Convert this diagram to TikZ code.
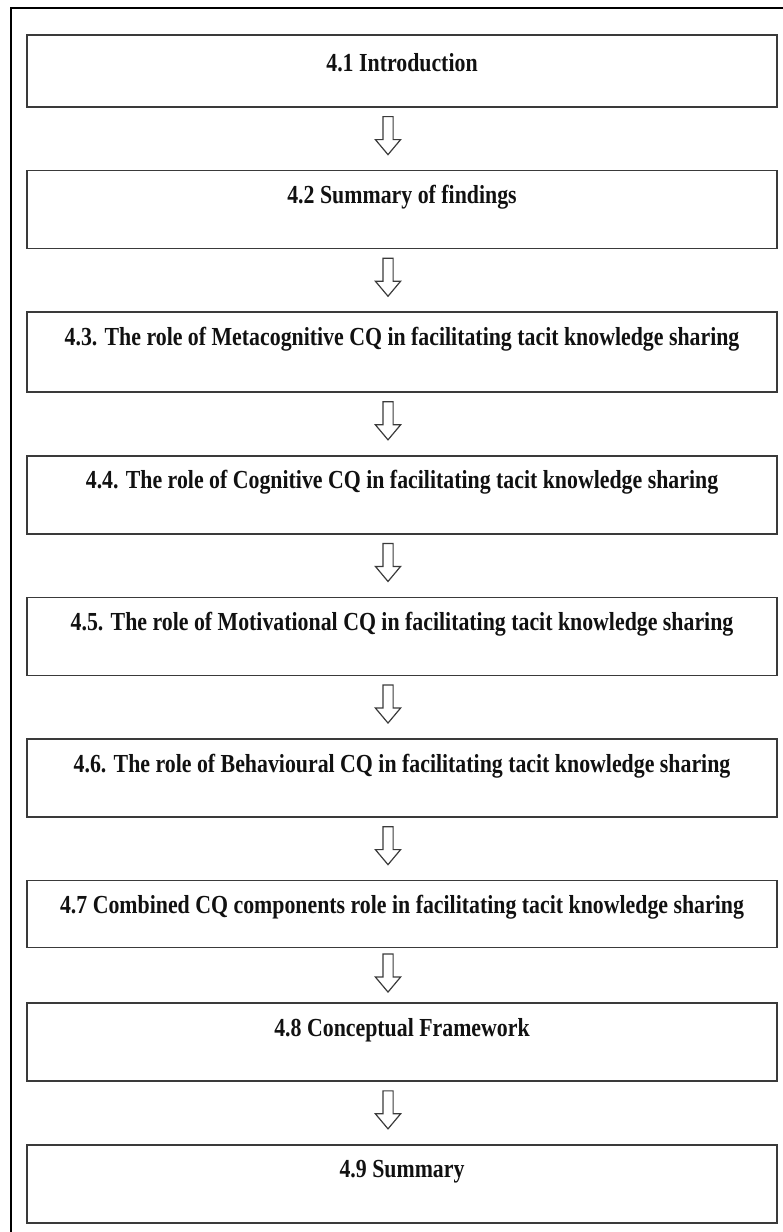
\documentclass[tikz,border=0pt]{standalone}
\usepackage{fontspec}
\setmainfont{Liberation Serif}
\newfontfamily\chapfont{Liberation Serif}[FakeStretch=0.84]
\usepackage{tikz}
\usetikzlibrary{positioning,shapes.arrows}
\definecolor{chapInk}{HTML}{111111}
\definecolor{chapLine}{HTML}{3A3A3A}
\tikzset{
    secbox/.style={draw=chapLine, line width=1.6pt, minimum width=750pt, inner sep=0pt, text height=33pt, text depth=45pt, text=chapInk, font=\chapfont\bfseries\fontsize{26}{30}\selectfont},
    downarrow/.style={single arrow, draw=chapLine, line width=1.2pt, shape border rotate=270, minimum height=38pt, minimum width=24pt, single arrow head extend=7.5pt, single arrow tip angle=80, single arrow head indent=0pt, inner sep=4.5pt, xshift=-14pt, pos=0.4},
    frame/.style={draw=black, line width=1.3pt}
}
\begin{document}
\begin{tikzpicture}[x=1pt, y=1pt, node distance=62pt]
\useasboundingbox (0,0) rectangle (783,-1232);
\draw[frame] (11,-8) rectangle (820,-1260);
\node[secbox, text height=36pt, text depth=36pt] (intro) at (402,-71) {4.1 Introduction};
\node[secbox, below=of intro] (findings) {4.2 Summary of findings};
\node[secbox, below=of findings, text depth=47pt] (meta) {4.3. The role of Metacognitive CQ in facilitating tacit knowledge sharing};
\node[secbox, below=of meta] (cogn) {4.4. The role of Cognitive CQ in facilitating tacit knowledge sharing};
\node[secbox, below=of cogn] (motiv) {4.5. The role of Motivational CQ in facilitating tacit knowledge sharing};
\node[secbox, below=of motiv] (behav) {4.6. The role of Behavioural CQ in facilitating tacit knowledge sharing};
\node[secbox, below=of behav, text depth=34pt] (combined) {4.7 Combined CQ components role in facilitating tacit knowledge sharing};
\node[secbox, below=54pt of combined] (concept) {4.8 Conceptual Framework};
\node[secbox, below=of concept] (summary) {4.9 Summary};
\path (intro) -- (findings) node[downarrow] {}; \path (findings) -- (meta) node[downarrow] {};
\path (meta) -- (cogn) node[downarrow] {}; \path (cogn) -- (motiv) node[downarrow] {};
\path (motiv) -- (behav) node[downarrow] {}; \path (behav) -- (combined) node[downarrow] {};
\path (combined) -- (concept) node[downarrow] {}; \path (concept) -- (summary) node[downarrow] {};
\end{tikzpicture}
\end{document}
